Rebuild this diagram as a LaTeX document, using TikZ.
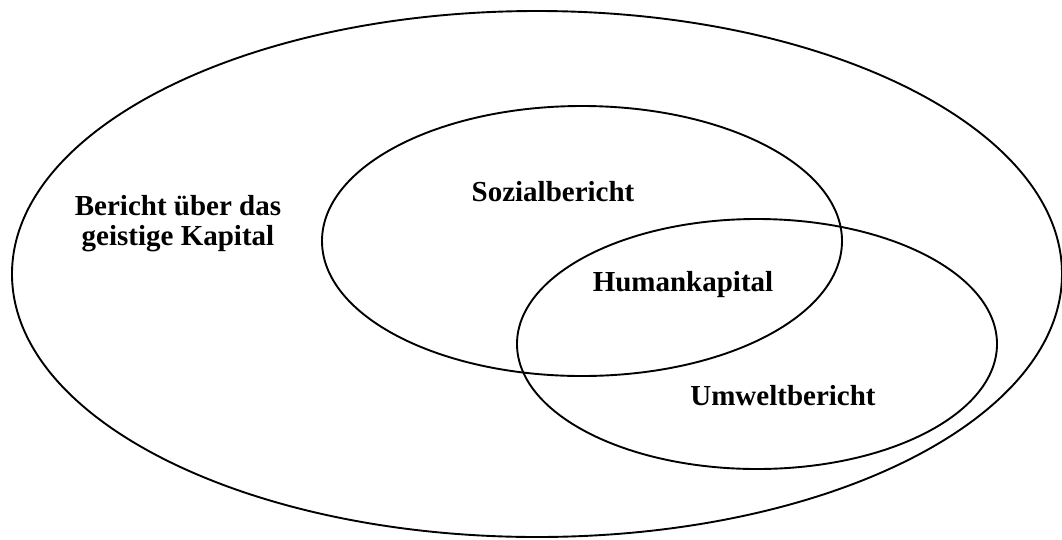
\documentclass[tikz,border=0pt]{standalone}
\usepackage{fontspec}
\setmainfont{Liberation Serif}
\begin{document}
\begin{tikzpicture}[x=1pt,y=-1pt,
  ring/.style={draw=black,line width=1.9pt},
  lbl/.style={font=\fontsize{29}{30}\selectfont\bfseries,align=center,inner sep=0pt}]
\useasboundingbox (0,0) rectangle (1062,539);
% nested report areas
\draw[ring] (537,274) ellipse [x radius=525, y radius=263];
\draw[ring] (582,241) ellipse [x radius=260, y radius=135];
\draw[ring] (757,344) ellipse [x radius=240, y radius=125];
% labels
\node[lbl] (ic) at (178,224) {Bericht über das\\geistige Kapital};
\node[lbl] (soz) at (553,192) {Sozialbericht};
\node[lbl] (hum) at (683,285) {Humankapital};
\node[lbl] (umw) at (783,396) {Umweltbericht};
\end{tikzpicture}
\end{document}
